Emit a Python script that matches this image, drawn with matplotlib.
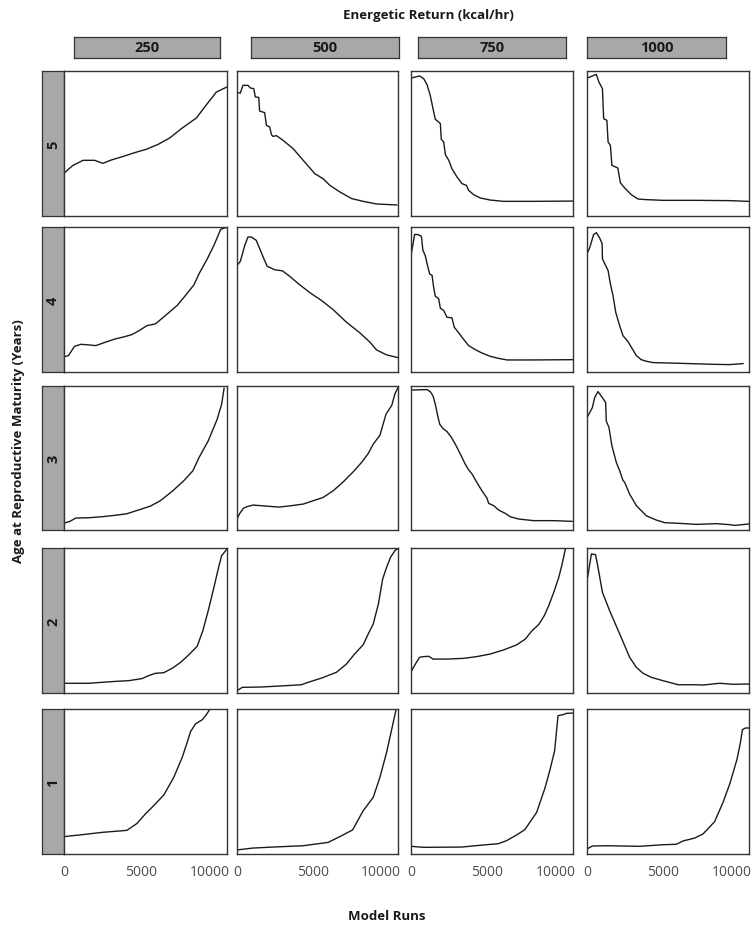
import matplotlib
matplotlib.use("Agg")
import matplotlib.pyplot as plt
from matplotlib.transforms import ScaledTranslation

plt.rcParams['font.family'] = ['Open Sans', 'DejaVu Sans']

# facet levels
energy_levels = [250, 500, 750, 1000]      # columns, kcal/hr
age_levels = [5, 4, 3, 2, 1]               # rows, years
run_ticks = [0, 5000, 10000]

# curves: model runs vs relative value (0-100, free scale per panel)
runs_a5_e250 = [40, 580, 1240, 1990, 2530, 3070, 3730, 4600, 5350, 6120, 6870, 7630, 8610, 9150, 9910, 10600]
vals_a5_e250 = [29.9, 34.9, 38.4, 38.4, 36.3, 38.6, 40.7, 43.7, 46.0, 49.4, 53.8, 60.2, 67.6, 75.2, 85.5, 89.0]
runs_a5_e500 = [0, 220, 390, 720, 880, 1100, 1210, 1430, 1490, 1820, 1940, 2150, 2270, 2370, 2600, 3030, 3700, 4360, 5120, 5670, 6120, 6770, 7550, 8310, 9190, 10520]
vals_a5_e500 = [85.1, 84.8, 90.1, 90.1, 88.3, 87.8, 82.1, 81.8, 72.4, 71.3, 62.5, 61.4, 56.1, 54.9, 55.4, 52.2, 46.4, 38.4, 29.2, 25.7, 21.1, 16.6, 12.0, 10.1, 8.3, 7.6]
runs_a5_e750 = [40, 560, 830, 1050, 1260, 1440, 1590, 1810, 1920, 1980, 2140, 2250, 2470, 2680, 3010, 3340, 3630, 3770, 4100, 4540, 5190, 6060, 7810, 10600]
vals_a5_e750 = [95.2, 96.6, 94.7, 90.6, 83.2, 74.0, 66.7, 64.8, 63.7, 52.9, 51.0, 42.3, 38.4, 32.6, 26.9, 22.3, 21.1, 17.7, 14.7, 12.4, 11.0, 10.1, 10.1, 10.3]
runs_a5_e1000 = [40, 610, 780, 1010, 1090, 1300, 1380, 1530, 1630, 2020, 2180, 2470, 2900, 3340, 3880, 4970, 7160, 9340, 10560]
vals_a5_e1000 = [95.2, 97.7, 92.4, 87.8, 67.1, 66.0, 51.0, 48.7, 34.9, 33.1, 23.0, 19.3, 14.7, 11.7, 11.3, 10.8, 10.8, 10.6, 10.1]

runs_a4_e250 = [20, 290, 680, 1110, 1590, 2070, 2680, 3330, 3880, 4420, 4850, 5400, 5950, 6590, 7360, 7900, 8450, 8780, 9320, 9750, 10190, 10520]
vals_a4_e250 = [10.6, 11.3, 17.7, 19.1, 18.7, 18.2, 20.5, 22.8, 24.2, 25.8, 28.3, 32.0, 33.2, 38.9, 45.9, 52.8, 60.1, 67.7, 78.1, 87.3, 98.4, 99.6]
runs_a4_e500 = [0, 220, 510, 720, 940, 1270, 1540, 1720, 1980, 2480, 2990, 3480, 4130, 4910, 5570, 6340, 7210, 8090, 8760, 9190, 9850, 10600]
vals_a4_e500 = [73.5, 76.3, 87.3, 93.1, 93.1, 90.8, 83.9, 79.3, 73.0, 70.5, 69.8, 65.9, 60.1, 53.9, 49.3, 42.9, 34.3, 27.0, 20.5, 15.2, 11.8, 9.9]
runs_a4_e750 = [40, 240, 500, 680, 780, 930, 1050, 1220, 1380, 1480, 1590, 1810, 1920, 2140, 2350, 2680, 2830, 3120, 3450, 3770, 4210, 4640, 5190, 5730, 6290, 7810, 10600]
vals_a4_e750 = [82.7, 94.9, 94.7, 93.5, 83.9, 80.4, 74.7, 67.7, 66.6, 58.5, 52.3, 50.5, 44.0, 42.4, 37.8, 37.3, 30.9, 27.0, 22.4, 18.2, 15.4, 13.1, 10.8, 9.4, 8.3, 8.3, 8.5]
runs_a4_e1000 = [0, 170, 430, 610, 830, 990, 1010, 1160, 1380, 1530, 1700, 1880, 2100, 2350, 2680, 2970, 3230, 3550, 3880, 4310, 6060, 8250, 9340, 10210]
vals_a4_e1000 = [81.6, 85.5, 94.7, 96.1, 92.4, 88.5, 78.1, 74.7, 70.0, 60.8, 52.8, 41.2, 33.2, 25.1, 21.0, 15.9, 11.3, 8.5, 7.4, 6.5, 6.0, 5.3, 5.1, 5.8]

runs_a3_e250 = [20, 390, 760, 1590, 2460, 3330, 4090, 4850, 5620, 6260, 7030, 7790, 8380, 8780, 9380, 9960, 10250, 10410]
vals_a3_e250 = [4.8, 6.0, 8.3, 8.5, 9.2, 10.2, 11.3, 13.9, 16.6, 20.3, 26.8, 34.2, 41.1, 50.3, 61.9, 76.9, 87.3, 98.4]
runs_a3_e500 = [0, 180, 430, 720, 1060, 1940, 2770, 3580, 4360, 5010, 5670, 6340, 7000, 7650, 8200, 8640, 8970, 9410, 9810, 10190, 10400, 10600]
vals_a3_e500 = [7.6, 11.5, 15.2, 16.4, 17.3, 16.6, 15.9, 16.9, 18.0, 20.3, 22.6, 27.3, 33.5, 40.4, 46.9, 53.1, 59.6, 65.8, 80.4, 86.6, 94.7, 98.8]
runs_a3_e750 = [40, 1050, 1260, 1440, 1590, 1750, 1880, 2100, 2350, 2620, 2900, 3230, 3550, 3770, 4000, 4310, 4640, 4970, 5080, 5410, 5730, 6170, 6500, 7050, 8020, 9340, 10540]
vals_a3_e750 = [97.2, 97.5, 96.1, 93.1, 87.3, 79.2, 73.4, 70.4, 68.4, 64.7, 59.6, 52.7, 45.7, 41.8, 38.8, 33.0, 27.3, 22.2, 18.5, 16.9, 13.9, 11.5, 9.2, 7.6, 6.5, 6.5, 6.0]
runs_a3_e1000 = [60, 350, 500, 720, 1010, 1220, 1260, 1440, 1630, 1920, 2140, 2350, 2470, 2790, 3230, 3880, 4540, 5080, 6060, 7160, 8460, 9340, 9670, 10600]
vals_a3_e1000 = [79.2, 85.0, 91.9, 96.1, 91.9, 88.5, 75.8, 71.1, 58.4, 46.9, 41.1, 34.6, 33.0, 24.9, 16.9, 9.9, 6.9, 5.1, 4.6, 3.9, 4.4, 3.7, 3.2, 4.2]

runs_a2_e250 = [20, 1590, 3330, 4200, 5070, 5510, 5950, 6490, 7030, 7580, 8120, 8660, 9030, 9380, 9750, 10080, 10250, 10600]
vals_a2_e250 = [6.7, 6.7, 8.0, 8.5, 9.9, 12.0, 13.6, 14.0, 17.0, 21.1, 26.4, 32.2, 43.0, 56.8, 72.9, 87.8, 94.7, 99.3]
runs_a2_e500 = [0, 350, 1490, 2820, 4240, 4690, 5570, 6550, 7210, 7700, 8310, 8640, 8970, 9310, 9590, 9850, 10110, 10400, 10600]
vals_a2_e500 = [1.6, 3.9, 4.1, 4.8, 5.7, 7.4, 10.3, 14.3, 20.0, 26.4, 33.3, 40.7, 47.6, 61.4, 78.6, 86.7, 93.6, 98.2, 99.8]
runs_a2_e750 = [40, 290, 560, 830, 1160, 1440, 2350, 3450, 4310, 5190, 6060, 6930, 7480, 7920, 8350, 8720, 9010, 9340, 9670, 9880, 10100]
vals_a2_e750 = [15.4, 20.0, 24.6, 25.1, 25.3, 23.4, 23.4, 23.9, 25.1, 26.9, 29.7, 33.3, 37.2, 43.0, 47.1, 53.3, 60.2, 69.4, 79.8, 88.5, 99.3]
runs_a2_e1000 = [40, 290, 560, 720, 1010, 1480, 2140, 2790, 3230, 3670, 4210, 4970, 5960, 7110, 7590, 8680, 9550, 10600]
vals_a2_e1000 = [79.8, 95.9, 95.4, 86.7, 69.4, 56.8, 40.7, 24.6, 17.7, 13.6, 10.8, 8.5, 5.7, 5.7, 5.5, 6.7, 6.0, 6.2]

runs_a1_e250 = [20, 1160, 2460, 4090, 4750, 5290, 5830, 6490, 7140, 7690, 8010, 8230, 8550, 8990, 9210, 9470]
vals_a1_e250 = [12.0, 13.3, 14.9, 16.3, 21.1, 27.6, 33.3, 40.7, 52.9, 66.7, 77.0, 84.4, 89.7, 92.6, 95.4, 99.5]
runs_a1_e500 = [0, 1060, 2370, 4360, 6000, 6770, 7610, 8310, 8970, 9410, 9850, 10190, 10470]
vals_a1_e500 = [2.8, 4.1, 4.8, 5.7, 8.0, 12.0, 16.6, 29.9, 39.1, 52.9, 70.1, 86.2, 99.5]
runs_a1_e750 = [20, 830, 3330, 4520, 5710, 6250, 6910, 7450, 8220, 8760, 9080, 9400, 9620, 9950, 10170, 10600]
vals_a1_e750 = [5.3, 4.6, 4.8, 6.0, 7.1, 9.2, 13.1, 16.8, 28.7, 45.3, 57.5, 71.3, 95.4, 96.1, 97.0, 97.2]
runs_a1_e1000 = [0, 350, 1260, 3450, 4970, 5840, 6290, 7050, 7590, 8350, 8900, 9340, 9820, 10040, 10170, 10360, 10600]
vals_a1_e1000 = [3.4, 5.5, 5.7, 5.3, 6.4, 6.7, 9.0, 11.0, 13.8, 22.3, 35.6, 48.3, 65.5, 77.0, 85.7, 86.9, 86.9]

curves = {
    (5, 250): (runs_a5_e250, vals_a5_e250), (5, 500): (runs_a5_e500, vals_a5_e500),
    (5, 750): (runs_a5_e750, vals_a5_e750), (5, 1000): (runs_a5_e1000, vals_a5_e1000),
    (4, 250): (runs_a4_e250, vals_a4_e250), (4, 500): (runs_a4_e500, vals_a4_e500),
    (4, 750): (runs_a4_e750, vals_a4_e750), (4, 1000): (runs_a4_e1000, vals_a4_e1000),
    (3, 250): (runs_a3_e250, vals_a3_e250), (3, 500): (runs_a3_e500, vals_a3_e500),
    (3, 750): (runs_a3_e750, vals_a3_e750), (3, 1000): (runs_a3_e1000, vals_a3_e1000),
    (2, 250): (runs_a2_e250, vals_a2_e250), (2, 500): (runs_a2_e500, vals_a2_e500),
    (2, 750): (runs_a2_e750, vals_a2_e750), (2, 1000): (runs_a2_e1000, vals_a2_e1000),
    (1, 250): (runs_a1_e250, vals_a1_e250), (1, 500): (runs_a1_e500, vals_a1_e500),
    (1, 750): (runs_a1_e750, vals_a1_e750), (1, 1000): (runs_a1_e1000, vals_a1_e1000),
}

# layout in pixels (figure is 753 x 929)
W, H = 753, 929
col_px = [(64, 227), (237, 398), (411, 573), (587, 749)]
row_px = [(72, 217), (228, 373), (387, 531), (549, 694), (710, 855)]
head_px = [(74, 220), (251, 399), (418, 566), (587, 726)]
head_y = (38, 59)
side_x = (42, 64)

strip_fc = '#a8a8a8'
edge_c = '#333333'


def rect(l, t, r, b):
    return [l / W, 1 - b / H, (r - l) / W, (b - t) / H]


def strip(l, t, r, b, label, rot):
    ax = fig.add_axes(rect(l, t, r, b))
    ax.set_facecolor(strip_fc)
    ax.set_xticks([])
    ax.set_yticks([])
    for s in ax.spines.values():
        s.set_color(edge_c)
        s.set_linewidth(0.9)
    ax.text(0.5, 0.5, label, transform=ax.transAxes, ha='center', va='center',
            rotation=rot, fontsize=10.5, fontweight='bold', color='#1a1a1a')
    return ax


fig = plt.figure(figsize=(W / 100, H / 100), dpi=100)

for j, e in enumerate(energy_levels):
    strip(head_px[j][0], head_y[0], head_px[j][1], head_y[1], str(e), 0)

for i, a in enumerate(age_levels):
    t, b = row_px[i]
    strip(side_x[0], t, side_x[1], b, str(a), 90)
    for j, e in enumerate(energy_levels):
        l, r = col_px[j]
        ax = fig.add_axes(rect(l, t, r, b))
        x, y = curves[(a, e)]
        ax.plot(x, y, color='#1a1a1a', lw=1.0)
        ax.set_xlim(0, 10600)
        ax.set_ylim(0, 100)
        ax.set_yticks([])
        for s in ax.spines.values():
            s.set_color(edge_c)
            s.set_linewidth(1.0)
        if i == len(age_levels) - 1:
            ax.set_xticks(run_ticks)
            ax.set_xticklabels([str(v) for v in run_ticks])
            ax.tick_params(axis='x', length=0, pad=7, labelsize=10, labelcolor='#4d4d4d')
            # last label sits a little inside the panel, as in the original
            last = ax.xaxis.get_major_ticks()[-1].label1
            last.set_transform(last.get_transform() +
                               ScaledTranslation(-8 / 100, 0, fig.dpi_scale_trans))
        else:
            ax.set_xticks([])

fig.text(428 / W, 1 - 15 / H, 'Energetic Return (kcal/hr)', ha='center', va='center',
         fontsize=9.5, fontweight='bold', color='#1a1a1a')
fig.text(387 / W, 1 - 917 / H, 'Model Runs', ha='center', va='center',
         fontsize=9.5, fontweight='bold', color='#1a1a1a')
fig.text(19 / W, 1 - 441 / H, 'Age at Reproductive Maturity (Years)', ha='center', va='center',
         rotation=90, fontsize=9.5, fontweight='bold', color='#1a1a1a')

fig.savefig('out.png', dpi=100)
